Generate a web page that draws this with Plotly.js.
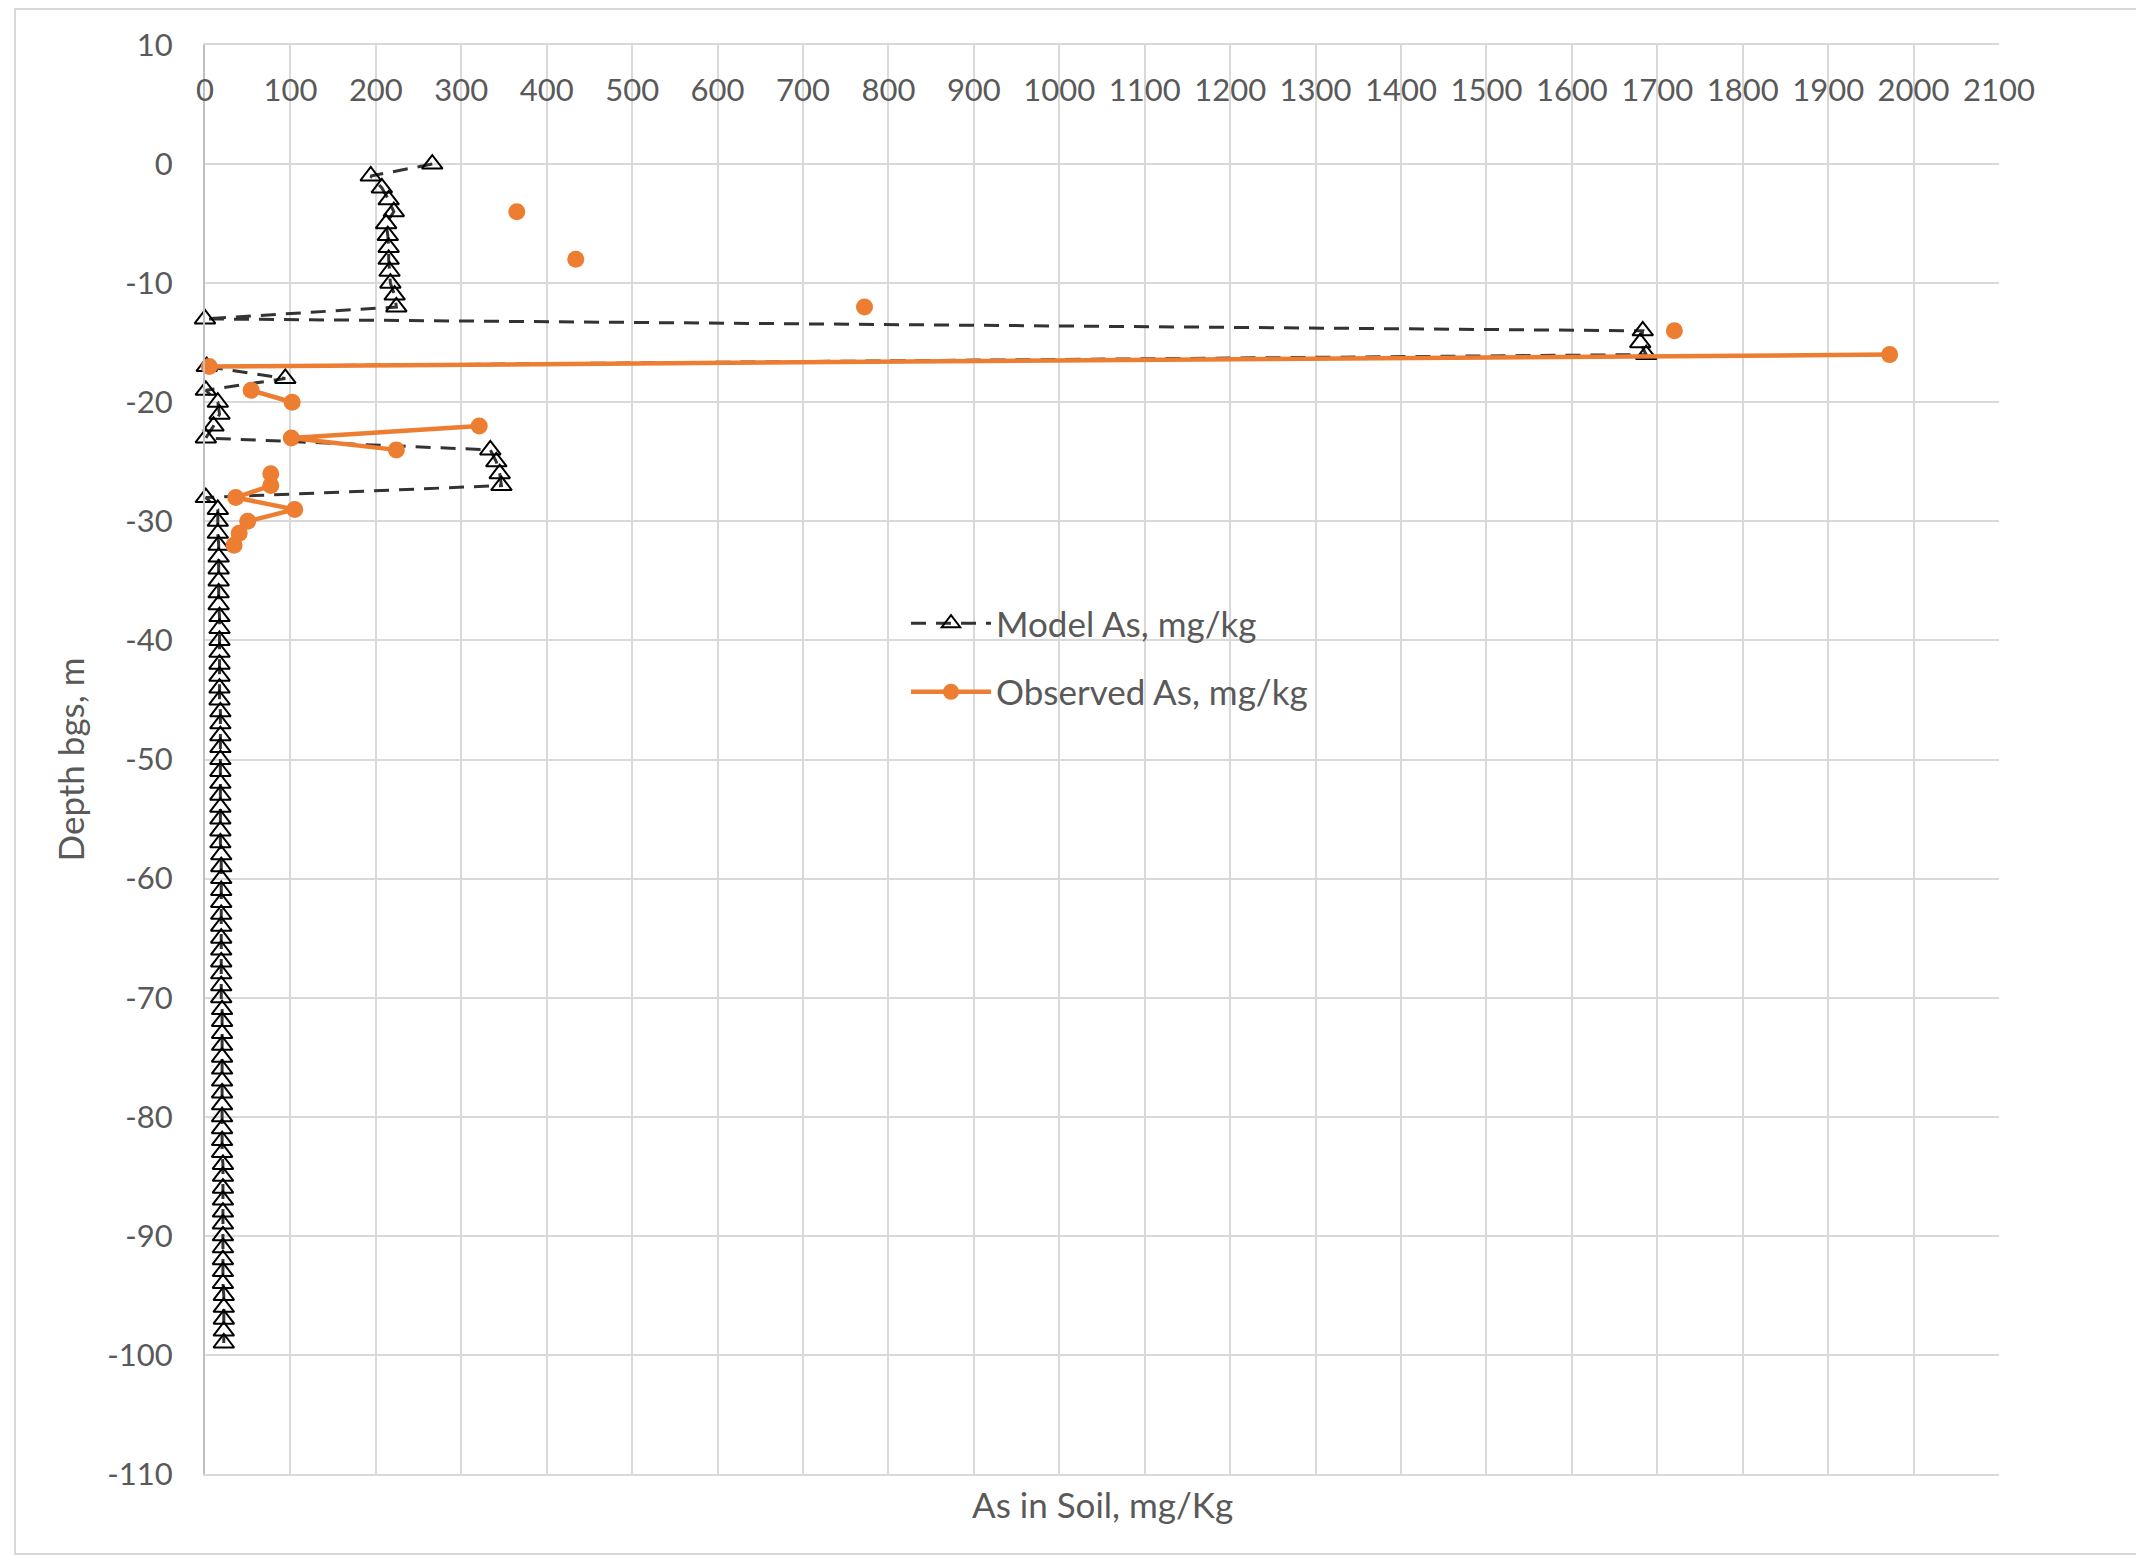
<!DOCTYPE html>
<html>
<head>
<meta charset="utf-8">
<script src="https://cdn.plot.ly/plotly-3.0.1.min.js"></script>
<style>
  html, body { margin: 0; padding: 0; background: #ffffff; }
  #chart { width: 2136px; height: 1558px; }
</style>
</head>
<body>
<div id="chart"></div>
<script>
// Depth below ground surface (m) for the model profile
const modelDepth = [
  0, -1, -2, -3, -4, -5, -6, -7, -8, -9,
  -10, -11, -12, -13, -14, -15, -16, -17, -18, -19,
  -20, -21, -22, -23, -24, -25, -26, -27, -28, -29,
  -30, -31, -32, -33, -34, -35, -36, -37, -38, -39,
  -40, -41, -42, -43, -44, -45, -46, -47, -48, -49,
  -50, -51, -52, -53, -54, -55, -56, -57, -58, -59,
  -60, -61, -62, -63, -64, -65, -66, -67, -68, -69,
  -70, -71, -72, -73, -74, -75, -76, -77, -78, -79,
  -80, -81, -82, -83, -84, -85, -86, -87, -88, -89,
  -90, -91, -92, -93, -94, -95, -96, -97, -98, -99
];
// Model As, mg/kg
const modelAs = [
  266, 194, 207, 215, 221, 212, 214, 215, 215, 216,
  217, 222, 224, 0, 1683, 1680, 1687, 2, 94, 1,
  15, 17, 10, 1, 334, 341, 345, 347, 1, 15,
  15, 15, 16, 16, 16, 16, 16, 16, 17, 17,
  17, 17, 17, 17, 17, 17, 18, 18, 18, 18,
  18, 18, 18, 18, 18, 18, 18, 18, 19, 19,
  19, 19, 19, 19, 19, 19, 19, 19, 19, 19,
  19, 20, 20, 20, 20, 20, 20, 20, 20, 20,
  20, 20, 20, 20, 21, 21, 21, 21, 21, 21,
  21, 21, 21, 21, 21, 22, 22, 22, 22, 22
];
// Depth (m) for the observed samples; null values are empty cells (gaps)
const obsDepth = [
  0, -1, -2, -3, -4, -5, -6, -7, -8, -9,
  -10, -11, -12, -13, -14, -15, -16, -17, -18, -19,
  -20, -21, -22, -23, -24, -25, -26, -27, -28, -29,
  -30, -31, -32
];
// Observed As, mg/kg
const obsAs = [
  null, null, null, null, 365, null, null, null, 434, null,
  null, null, 772, null, 1720, null, 1972, 5, null, 54,
  102, null, 321, 101, 224, null, 77, 77, 36, 105,
  50, 40, 34
];
// Axis ticks
const xTickVals = [0, 100, 200, 300, 400, 500, 600, 700, 800, 900, 1000, 1100, 1200, 1300, 1400, 1500, 1600, 1700, 1800, 1900, 2000, 2100];
const yTickVals = [10, 0, -10, -20, -30, -40, -50, -60, -70, -80, -90, -100, -110];

const W = 2136, H = 1558;
const L = 205, R = 1999, T = 45, B = 1474;
const pw = R - L, ph = B - T;
const px = v => (v - L) / pw;
const py = v => 1 - (v - T) / ph;

const textColor = '#595959';
const fontFam = 'Lato, "Open Sans", sans-serif';

const traces = [
  {
    type: 'scatter',
    mode: 'lines+markers',
    name: 'Model As, mg/kg',
    legendgroup: 'a',
    x: modelAs,
    y: modelDepth,
    cliponaxis: false,
    line: { color: '#333333', width: 3, dash: '15px,10px' },
    marker: { symbol: 'triangle-up-open', size: 18, color: '#000000', line: { color: '#000000', width: 2 } }
  },
  {
    type: 'scatter',
    mode: 'lines+markers',
    name: 'Observed As, mg/kg',
    legendgroup: 'b',
    x: obsAs,
    y: obsDepth,
    connectgaps: false,
    cliponaxis: false,
    line: { color: '#ED7D31', width: 4.5 },
    marker: { symbol: 'circle', size: 17, color: '#ED7D31' }
  }
];

const layout = {
  width: W,
  height: H,
  paper_bgcolor: '#ffffff',
  plot_bgcolor: '#ffffff',
  margin: { l: L, r: W - R, t: T, b: H - B, pad: 0 },
  font: { family: fontFam, size: 31, color: textColor },
  showlegend: true,
  legend: {
    x: px(906), y: py(594), xanchor: 'left', yanchor: 'top',
    bgcolor: 'rgba(0,0,0,0)',
    font: { family: fontFam, size: 35, color: textColor },
    traceorder: 'grouped',
    tracegroupgap: 20,
    itemwidth: 80
  },
  xaxis: {
    range: [0, 2100],
    side: 'top',
    tickmode: 'array',
    tickvals: xTickVals,
    ticktext: xTickVals.map(v => String(v)),
    ticklabelposition: 'inside',
    ticklabeloverflow: 'allow',
    ticklabelstandoff: 38,
    ticks: '',
    showgrid: true,
    gridcolor: '#D9D9D9',
    gridwidth: 2,
    zeroline: false,
    showline: true,
    linecolor: '#D9D9D9',
    linewidth: 2,
    mirror: true,
    tickfont: { family: fontFam, size: 31, color: textColor },
    automargin: false
  },
  yaxis: {
    range: [-110, 10],
    tickmode: 'array',
    tickvals: yTickVals,
    ticktext: yTickVals.map(v => String(v)),
    ticks: '',
    ticklabelstandoff: 24,
    showgrid: true,
    gridcolor: '#D9D9D9',
    gridwidth: 2,
    zeroline: false,
    showline: true,
    linecolor: '#BFBFBF',
    linewidth: 2,
    tickfont: { family: fontFam, size: 31, color: textColor },
    title: { text: 'Depth bgs, m', standoff: 12, font: { family: fontFam, size: 35, color: textColor } },
    automargin: false
  },
  annotations: [
    {
      text: 'As in Soil, mg/Kg',
      xref: 'paper', yref: 'paper',
      x: 0.5, y: py(1504),
      xanchor: 'center', yanchor: 'middle',
      showarrow: false,
      font: { family: fontFam, size: 35, color: textColor }
    }
  ],
  shapes: [
    {
      type: 'rect', xref: 'paper', yref: 'paper',
      x0: px(15), x1: px(2250), y0: py(1554), y1: py(9),
      line: { color: '#D9D9D9', width: 2 },
      fillcolor: 'rgba(0,0,0,0)',
      layer: 'below'
    }
  ]
};

Plotly.newPlot('chart', traces, layout, { displayModeBar: false, staticPlot: true });
</script>
</body>
</html>
